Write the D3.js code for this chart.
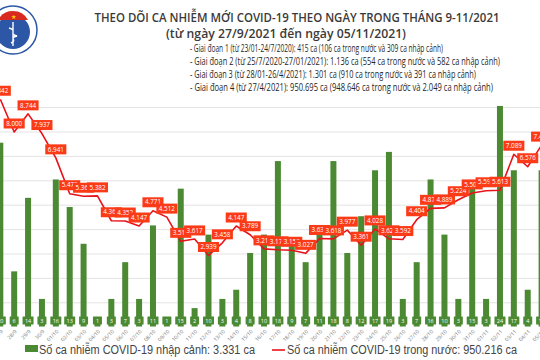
<!DOCTYPE html>
<html><head><meta charset="utf-8">
<script src="https://cdn.jsdelivr.net/npm/d3@7"></script>
<style>html,body{margin:0;padding:0;background:#fff;overflow:hidden}</style>
</head><body>
<svg id="c" width="540" height="360"></svg>
<script>
const dates = ["27/9","28/9","29/9","30/9","01/10","02/10","03/10","04/10","05/10","06/10","07/10","08/10","09/10","10/10","11/10","12/10","13/10","14/10","15/10","16/10","17/10","18/10","19/10","20/10","21/10","22/10","23/10","24/10","25/10","26/10","27/10","28/10","29/10","30/10","31/10","01/11","02/11","03/11","04/11","05/11"];
const imported = [20,6,14,3,16,13,9,1,3,7,3,11,1,15,2,10,3,4,8,10,18,9,7,11,18,8,12,17,19,3,7,16,10,3,15,3,24,17,4,17];
const domestic = [9342,8000,8744,7937,6941,5470,5367,5382,4363,4352,4147,4771,4512,3519,3617,2939,3458,4147,3789,3211,3172,3153,3027,3636,3618,3977,3361,4028,3623,3592,4404,4871,4889,5224,5503,5591,5613,7089,6576,7462];
const gridTicks = [1000,2000,3000,4000,5000,6000,7000,8000,9000];
const titleText = "THEO DÕI CA NHIỄM MỚI COVID-19 THEO NGÀY TRONG THÁNG 9-11/2021";
const subtitleText = "(từ ngày 27/9/2021 đến ngày 05/11/2021)";
const notes = [
 "- Giai đoạn 1 (từ 23/01-24/7/2020): 415 ca (106 ca trong nước và 309 ca nhập cảnh)",
 "- Giai đoạn 2 (từ 25/7/2020-27/01/2021): 1.136 ca (554 ca trong nước và 582 ca nhập cảnh)",
 "- Giai đoạn 3 (từ 28/01-26/4/2021): 1.301 ca (910 ca trong nước và 391 ca nhập cảnh)",
 "- Giai đoạn 4 (từ 27/4/2021): 950.695 ca (948.646 ca trong nước và 2.049 ca nhập cảnh)"
];
const legendBar = "Số ca nhiễm COVID-19 nhập cảnh: 3.331 ca";
const legendLine = "Số ca nhiễm COVID-19 trong nước: 950.216 ca";

const svg = d3.select("#c");
const fmt = v => d3.format(",")(v).replace(/,/g, ".");
const GREEN = "#4b8a32", RED = "#e8121a", LBL = "#fb3b17";

const x = d3.scalePoint().domain(dates).range([0.3, 541.6]);
const yBar = d3.scaleLinear().domain([0, 30]).range([326.5, 326.5 - 30*9.19]);
const yLine = d3.scaleLinear().domain([0, 10000]).range([327.2, 327.2 - 244]);

// grid
svg.append("g").selectAll("line").data(gridTicks).join("line")
  .attr("x1", 0).attr("x2", 540)
  .attr("y1", d => yLine(d)).attr("y2", d => yLine(d))
  .attr("stroke", "#e3e3e3").attr("stroke-width", 1);

// logo
const logo = svg.append("g");
logo.append("circle").attr("cx", 13).attr("cy", 30).attr("r", 24).attr("fill", "#fff").attr("stroke", "#2b57a6").attr("stroke-width", 1.5);
logo.append("circle").attr("cx", 13).attr("cy", 32).attr("r", 17).attr("fill", "#2b57a6");
logo.append("path").attr("d", "M-2,20 A17,17 0 0 1 28,20 Z").attr("fill", "#d92a1f");
logo.append("text").attr("x", 13).attr("y", 19).attr("text-anchor", "middle").attr("font-size", 6).attr("fill", "#ffd400").text("★");
logo.append("path").attr("d", "M13,22 L13,46 M9,28 C18,30 8,34 17,36 C8,38 18,40 11,43").attr("stroke", "#fff").attr("stroke-width", 1.4).attr("fill", "none");
svg.append("rect").attr("x", 0).attr("y", 87).attr("width", 8).attr("height", 5).attr("fill", "#e03020");

// titles
svg.append("text").attr("x", 297).attr("y", 22).attr("text-anchor", "middle")
  .attr("font-family", "'Open Sans', sans-serif").attr("font-size", 12.6).attr("font-weight", 600)
  .attr("fill", "#3a3a3a").attr("textLength", 405).attr("lengthAdjust", "spacingAndGlyphs").text(titleText);
svg.append("text").attr("x", 286).attr("y", 38).attr("text-anchor", "middle")
  .attr("font-family", "'Open Sans', sans-serif").attr("font-size", 12.6).attr("font-weight", 600)
  .attr("fill", "#3a3a3a").attr("textLength", 240).attr("lengthAdjust", "spacingAndGlyphs").text(subtitleText);
const noteW = [253, 310, 286, 303];
svg.append("g").selectAll("text").data(notes).join("text")
  .attr("x", 190).attr("y", (d, i) => 51.5 + i*13.2)
  .attr("font-family", "'Liberation Sans Narrow', 'Open Sans', sans-serif").attr("font-size", 10)
  .attr("fill", "#262626").attr("textLength", (d, i) => noteW[i]).attr("lengthAdjust", "spacingAndGlyphs").text(d => d);

// bars
svg.append("g").selectAll("rect").data(imported).join("rect")
  .attr("x", (d, i) => x(dates[i]) - 3).attr("width", 6)
  .attr("y", d => yBar(d)).attr("height", d => yBar(0) - yBar(d))
  .attr("fill", GREEN);

// bar labels
const bl = svg.append("g").selectAll("g").data(imported).join("g")
  .attr("transform", (d, i) => `translate(${x(dates[i])},320.5)`);
bl.append("rect").attr("x", d => d >= 10 ? -5.5 : -4.5).attr("width", d => d >= 10 ? 11 : 9)
  .attr("y", -4).attr("height", 8).attr("fill", GREEN).attr("rx", 0.5);
bl.append("text").attr("text-anchor", "middle").attr("y", 2).attr("font-size", 5.5)
  .attr("font-family", "'Open Sans', sans-serif").attr("fill", "#fff").text(d => d);

// x axis labels
svg.append("g").selectAll("text").data(dates).join("text")
  .attr("transform", d => `translate(${x(d) + 3},332) rotate(-45)`)
  .attr("text-anchor", "end").attr("font-size", 5.2)
  .attr("font-family", "'Open Sans', sans-serif").attr("fill", "#777").text(d => d);

// line
const line = d3.line().x((d, i) => x(dates[i])).y(d => yLine(d));
svg.append("path").datum(domestic).attr("d", line)
  .attr("fill", "none").attr("stroke", RED).attr("stroke-width", 1.6).attr("stroke-linejoin", "round");

// line labels
const ll = svg.append("g");
domestic.forEach((v, i) => {
  const g = ll.append("g").attr("transform", `translate(${x(dates[i])},${yLine(v) - 8.5})`);
  const r = g.append("rect").attr("fill", LBL);
  const t = g.append("text").attr("text-anchor", "middle").attr("y", 2.2).attr("font-size", 6.3)
    .attr("font-family", "'Open Sans', sans-serif").attr("fill", "#fff").text(fmt(v));
  const w = t.node().getComputedTextLength() + 5;
  r.attr("x", -w/2).attr("width", w).attr("y", -5).attr("height", 10);
});

// legend
svg.append("rect").attr("x", 25).attr("y", 345).attr("width", 13).attr("height", 7).attr("fill", GREEN);
svg.append("text").attr("x", 39).attr("y", 354).attr("font-family", "'Liberation Sans', Arial, sans-serif")
  .attr("font-size", 12).attr("fill", "#444").attr("textLength", 216).attr("lengthAdjust", "spacingAndGlyphs").text(legendBar);
svg.append("line").attr("x1", 272).attr("x2", 285).attr("y1", 350).attr("y2", 350).attr("stroke", RED).attr("stroke-width", 1.6);
svg.append("text").attr("x", 287).attr("y", 354).attr("font-family", "'Liberation Sans', Arial, sans-serif")
  .attr("font-size", 12).attr("fill", "#444").attr("textLength", 230).attr("lengthAdjust", "spacingAndGlyphs").text(legendLine);
</script>
</body></html>
